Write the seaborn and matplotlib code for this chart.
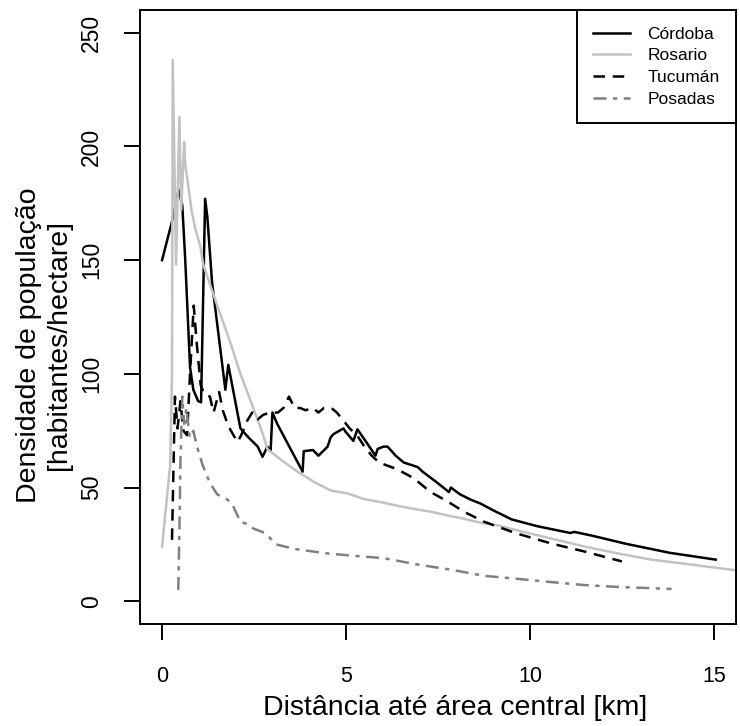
import matplotlib
matplotlib.use("Agg")
import matplotlib.pyplot as plt
from matplotlib import font_manager
import seaborn as sns
import pandas as pd

# ---------------- data ----------------
cordoba_x = [0, 0.27, 0.45, 0.55, 0.63, 0.76, 0.85, 0.98, 1.06, 1.17, 1.23, 1.36, 1.72, 1.80,
             2.13, 2.35, 2.60, 2.73, 2.86, 2.95, 3.00, 3.13, 3.82, 3.85, 4.10, 4.25, 4.50, 4.58,
             4.66, 4.93, 4.99, 5.20, 5.31, 5.55, 5.80, 5.86, 6.02, 6.13, 6.35, 6.57, 6.95, 7.08,
             7.45, 7.80, 7.85, 8.10, 8.40, 8.65, 9.00, 9.50, 10.20, 11.10, 11.20, 11.70, 12.60,
             13.80, 15.05]
cordoba_y = [150, 167, 181, 174, 150, 103, 93, 88, 87.5, 177, 169, 140, 93, 104,
             76, 72, 68, 63.5, 68, 66, 83, 78, 57, 66, 66.5, 64, 68, 72,
             73.5, 76, 74.5, 70.5, 75.6, 70, 64, 67, 68, 68, 64, 61, 59, 57,
             52.5, 48, 50, 47, 44.6, 43, 40, 36, 33, 30, 30.5, 28.8, 25.3,
             21.3, 18.3]

rosario_x = [0, 0.22, 0.27, 0.29, 0.38, 0.47, 0.52, 0.60, 0.63, 0.70, 0.80, 0.90, 1.04, 1.12,
             1.50, 1.85, 2.13, 2.48, 2.75, 2.86, 3.20, 3.68, 4.12, 4.58, 5.04, 5.48, 5.94, 6.40,
             6.84, 7.30, 7.77, 8.20, 8.67, 9.13, 9.70, 10.60, 11.50, 12.40, 13.30, 14.20, 15.60,
             16.20]
rosario_y = [24, 60, 100, 238, 148, 213, 172, 202, 192, 184, 172, 164, 156, 148,
             130, 114, 100, 85, 73, 67, 62.6, 57, 52.6, 48.7, 47.4, 45, 43.6, 42,
             40.6, 39.4, 37.7, 36.3, 34.5, 33.3, 31, 27.5, 24, 21, 18.3, 16.5, 13.6,
             12.8]

tucuman_x = [0.27, 0.35, 0.42, 0.50, 0.58, 0.68, 0.76, 0.86, 0.95, 1.05, 1.15, 1.30, 1.40, 1.55,
             1.65, 1.80, 2.05, 2.15, 2.30, 2.45, 2.60, 2.75, 2.95, 3.15, 3.30, 3.45, 3.60, 3.75,
             3.90, 4.10, 4.25, 4.40, 4.60, 4.75, 4.95, 5.10, 5.30, 5.50, 5.70, 5.90, 6.15, 6.40,
             6.85, 7.30, 7.75, 8.20, 8.75, 9.60, 10.60, 11.50, 12.50]
tucuman_y = [27, 90, 76, 88, 75, 73, 100, 130, 112, 95, 91, 90, 83, 92,
             84, 77, 70, 73, 79, 83, 80, 82, 83, 83, 85, 90, 85, 85,
             84, 85, 83, 85, 85, 83, 79, 76, 73, 68, 64, 61, 59.5, 58,
             54, 48, 44, 39.4, 35, 30, 25.3, 21.8, 17.5]

posadas_x = [0.44, 0.47, 0.50, 0.55, 0.60, 0.66, 0.75, 0.85, 0.95, 1.10, 1.30, 1.50, 1.75, 1.85,
             1.94, 2.13, 2.30, 2.48, 2.80, 3.10, 3.60, 4.50, 5.20, 6.00, 7.00, 7.85, 8.75, 9.70,
             10.60, 11.50, 12.40, 13.85]
posadas_y = [5, 30, 62, 90, 78, 85, 72, 75, 68, 60, 52, 47, 45, 43.7,
             41.5, 35, 34, 32, 30, 25, 23, 21, 20, 19, 16, 13.9, 11.2, 9.8,
             8.4, 7.1, 6.3, 5.4]

series_names = ["Córdoba", "Rosario", "Tucumán", "Posadas"]
x_ticks = [0, 5, 10, 15]
y_ticks = [0, 50, 100, 150, 200, 250]
x_label = "Distância até área central [km]"
y_label = "Densidade de população\n[habitantes/hectare]"

# ---------------- fonts ----------------
names = {f.name for f in font_manager.fontManager.ttflist}
REG = "Liberation Sans" if "Liberation Sans" in names else "DejaVu Sans"
plt.rcParams["font.family"] = [REG, "DejaVu Sans"]

# ---------------- figure ----------------
fig = plt.figure(figsize=(7.4, 7.26), dpi=100)
ax = fig.add_axes([140 / 740, (726 - 624) / 726, (736 - 140) / 740, (624 - 10) / 726])

frames = {
    "Córdoba": pd.DataFrame({"x": cordoba_x, "y": cordoba_y}),
    "Rosario": pd.DataFrame({"x": rosario_x, "y": rosario_y}),
    "Tucumán": pd.DataFrame({"x": tucuman_x, "y": tucuman_y}),
    "Posadas": pd.DataFrame({"x": posadas_x, "y": posadas_y}),
}
styles = {
    "Córdoba": dict(color="black", ls="-"),
    "Rosario": dict(color="#c2c2c2", ls="-"),
    "Tucumán": dict(color="black", ls=(0, (4.6, 3.1))),
    "Posadas": dict(color="#808080", ls=(0, (5.2, 2.6, 1.7, 2.6))),
}
lw = 1.8
for name in series_names:
    sns.lineplot(data=frames[name], x="x", y="y", ax=ax, sort=False, estimator=None,
                 color=styles[name]["color"], linewidth=lw, label=name)
    ax.lines[-1].set_linestyle(styles[name]["ls"])

ax.set_xlim(-0.6, 15.6)
ax.set_ylim(-10, 260)
ax.set_xticks(x_ticks)
ax.set_yticks(y_ticks)
ax.set_xticklabels([str(v) for v in x_ticks], fontsize=15.5)
ax.set_yticklabels([str(v) for v in y_ticks], fontsize=16.5, rotation=90, va="center")
ax.tick_params(axis="both", direction="out", length=11.5, width=1.4, color="black")
ax.tick_params(axis="x", pad=18.5)
ax.tick_params(axis="y", pad=15)
for sp in ax.spines.values():
    sp.set_linewidth(1.4)
    sp.set_color("black")

ax.set_xlabel("")
ax.set_ylabel("")
fig.text(455 / 740, 1 - 708 / 726, x_label,
         ha="center", va="center", fontsize=20.5)
fig.text(44 / 740, 1 - 345 / 726, y_label, ha="center", va="center", rotation=90,
         fontsize=20.5, linespacing=1.22, multialignment="center")

leg = ax.legend(loc="upper right", frameon=True, fancybox=False, framealpha=1,
                edgecolor="black", borderaxespad=0, borderpad=0.95, labelspacing=0.38,
                handlelength=2.1, handletextpad=1.0, prop={"size": 12.5})
leg.get_frame().set_linewidth(1.4)
for h in leg.get_lines():
    h.set_linewidth(lw)

fig.savefig("out.png", dpi=100)
